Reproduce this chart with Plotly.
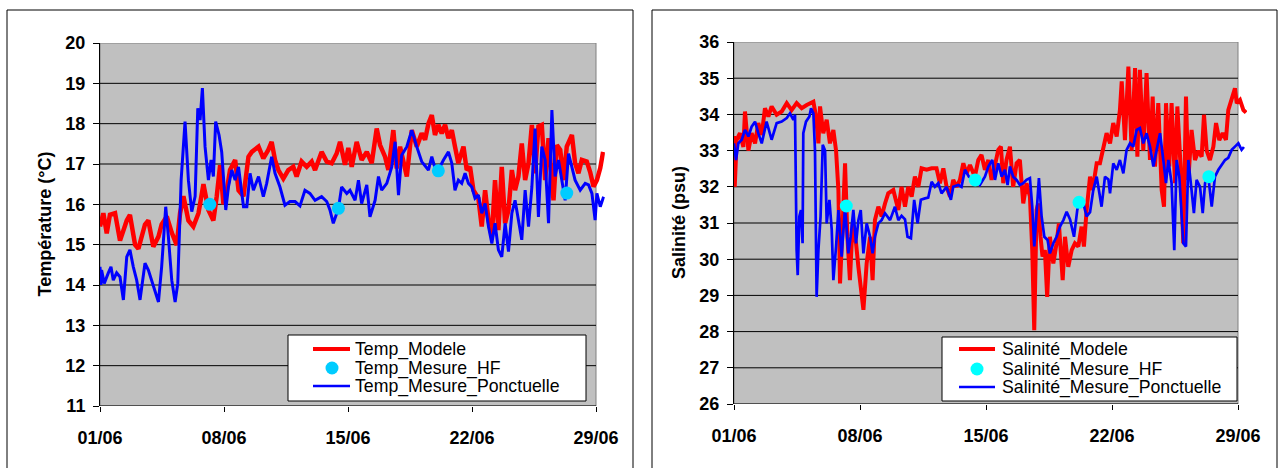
import plotly.graph_objects as go

# ---------------- data (days elapsed since 01/06, 00:00) ----------------
DATE_TICKS = [0, 7, 14, 21, 28]
DATE_LABELS = ["01/06", "08/06", "15/06", "22/06", "29/06"]

TEMP_MODEL_DAY = [0.00, 0.19, 0.38, 0.56, 0.85, 1.13, 1.51, 1.69, 1.98, 2.17, 2.54, 2.73, 3.01, 3.30, 3.48, 3.77,
                  4.05, 4.33, 4.52, 4.71, 4.99, 5.27, 5.56, 5.84, 6.12, 6.40, 6.59, 6.78, 6.97, 7.16, 7.34, 7.63,
                  7.82, 8.10, 8.38, 8.57, 8.95, 9.22, 9.50, 9.69, 9.88, 10.07, 10.35, 10.63, 10.91, 11.10, 11.38,
                  11.67, 11.95, 12.14, 12.51, 12.80, 13.08, 13.36, 13.55, 13.83, 14.02, 14.21, 14.49, 14.77, 15.06,
                  15.34, 15.62, 15.81, 16.09, 16.28, 16.56, 16.75, 16.94, 17.13, 17.32, 17.60, 17.88, 18.16, 18.35,
                  18.54, 18.73, 18.91, 19.10, 19.29, 19.48, 19.67, 19.86, 20.04, 20.23, 20.52, 20.70, 20.89, 21.08,
                  21.36, 21.55, 21.74, 21.93, 22.12, 22.30, 22.49, 22.68, 22.87, 23.06, 23.25, 23.43, 23.62, 23.81,
                  24.00, 24.19, 24.38, 24.56, 24.75, 24.94, 25.13, 25.32, 25.60, 25.79, 25.98, 26.17, 26.35, 26.64,
                  26.82, 27.01, 27.20, 27.48, 27.67, 27.86, 28.05, 28.24, 28.40]
TEMP_MODEL = [15.45, 15.78, 15.28, 15.74, 15.78, 15.10, 15.60, 15.74, 15.00, 14.90, 15.50, 15.60, 14.95, 15.20, 15.50,
              15.70, 15.30, 14.99, 15.78, 16.20, 15.60, 15.45, 15.78, 16.50, 15.86, 15.60, 16.20, 16.97, 16.00, 16.35,
              16.85, 17.10, 16.35, 16.20, 17.18, 17.30, 17.43, 17.14, 17.35, 17.55, 17.10, 16.85, 16.64, 16.85, 16.93,
              16.69, 17.06, 16.93, 17.06, 16.85, 17.30, 17.06, 17.02, 17.26, 17.55, 16.98, 17.40, 16.93, 17.55, 17.10,
              17.30, 17.02, 17.88, 17.47, 17.18, 16.85, 17.84, 16.89, 17.43, 17.10, 16.69, 17.84, 17.43, 17.76, 17.60,
              18.00, 18.21, 17.72, 17.97, 17.76, 17.97, 17.64, 17.84, 17.43, 17.02, 17.43, 16.85, 16.93, 16.35, 16.15,
              15.45, 16.35, 15.61, 15.20, 16.60, 15.36, 16.93, 15.53, 15.86, 16.85, 16.35, 16.69, 17.51, 16.60, 17.02,
              17.97, 16.77, 17.93, 17.97, 16.60, 17.64, 16.10, 17.47, 17.35, 16.60, 17.43, 17.72, 17.02, 16.77, 17.10,
              17.06, 16.80, 16.44, 16.60, 16.90, 17.30]

TEMP_PONCT_DAY = [0.00, 0.05, 0.09, 0.24, 0.47, 0.62, 0.75, 0.94, 1.13, 1.32, 1.51, 1.69, 1.88, 2.07, 2.26, 2.54,
                  2.73, 3.01, 3.30, 3.48, 3.71, 3.86, 4.05, 4.24, 4.39, 4.58, 4.80, 4.99, 5.18, 5.37, 5.52, 5.65,
                  5.78, 5.93, 6.12, 6.27, 6.40, 6.53, 6.72, 6.87, 7.10, 7.25, 7.44, 7.63, 7.82, 8.10, 8.29, 8.47,
                  8.66, 8.95, 9.22, 9.41, 9.69, 9.88, 10.16, 10.44, 10.72, 11.01, 11.29, 11.57, 11.85, 12.14, 12.51,
                  12.80, 12.98, 13.17, 13.46, 13.64, 13.93, 14.11, 14.40, 14.59, 14.77, 15.06, 15.24, 15.53, 15.72,
                  15.90, 16.19, 16.47, 16.66, 16.85, 17.03, 17.32, 17.60, 17.88, 18.16, 18.54, 18.73, 18.91, 19.10,
                  19.39, 19.67, 19.86, 20.04, 20.23, 20.42, 20.61, 20.80, 20.99, 21.17, 21.36, 21.55, 21.74, 21.93,
                  22.12, 22.30, 22.49, 22.68, 22.87, 23.06, 23.25, 23.43, 23.62, 23.81, 24.00, 24.19, 24.38, 24.56,
                  24.75, 24.94, 25.13, 25.32, 25.51, 25.69, 25.88, 26.07, 26.26, 26.45, 26.64, 26.82, 27.11, 27.39,
                  27.58, 27.77, 27.95, 28.05, 28.24, 28.43]
TEMP_PONCT = [14.45, 14.00, 14.37, 14.04, 14.30, 14.45, 14.12, 14.30, 14.20, 13.63, 14.70, 14.87, 14.45, 14.12, 13.63,
              14.54, 14.37, 13.96, 13.58, 14.45, 15.94, 15.20, 14.12, 13.58, 14.04, 16.60, 18.05, 16.60, 15.82, 16.20,
              18.38, 18.09, 18.88, 17.43, 16.60, 17.10, 16.69, 18.05, 17.72, 17.30, 15.86, 16.43, 16.85, 16.60, 16.93,
              15.94, 15.94, 16.77, 16.35, 16.69, 16.19, 16.52, 17.18, 16.77, 16.43, 15.98, 16.07, 16.07, 15.96, 16.35,
              16.27, 16.10, 16.19, 16.07, 15.86, 15.53, 15.90, 16.43, 16.27, 16.35, 16.10, 16.60, 16.02, 16.48, 15.69,
              16.10, 16.69, 16.35, 16.52, 16.93, 17.55, 16.23, 17.22, 17.43, 17.84, 17.43, 17.06, 16.85, 17.18, 16.90,
              16.85, 17.10, 17.30, 17.02, 16.35, 16.60, 16.52, 16.77, 16.52, 16.43, 16.15, 16.23, 15.78, 16.02, 15.45,
              15.03, 15.53, 14.87, 14.70, 15.53, 14.83, 15.78, 16.10, 15.61, 15.12, 16.35, 15.45, 16.43, 17.88, 15.69,
              17.43, 17.10, 15.53, 18.34, 16.69, 17.10, 16.60, 16.10, 17.26, 16.93, 16.60, 16.35, 16.52, 16.48, 16.27,
              15.61, 16.27, 15.94, 16.19]

TEMP_HF_DAY = [6.20, 13.46, 19.10, 26.35]
TEMP_HF = [16.00, 15.90, 16.83, 16.28]

SAL_MODEL_DAY = [0.00, 0.04, 0.15, 0.33, 0.52, 0.61, 0.80, 0.98, 1.17, 1.35, 1.54, 1.72, 1.91, 2.09, 2.37, 2.65,
                 2.93, 3.20, 3.48, 3.76, 4.04, 4.41, 4.56, 4.69, 4.78, 4.96, 5.15, 5.33, 5.52, 5.67, 5.80, 5.89,
                 6.04, 6.17, 6.30, 6.44, 6.59, 6.78, 6.91, 7.09, 7.19, 7.37, 7.56, 7.70, 7.83, 8.02, 8.20, 8.39,
                 8.57, 8.85, 9.13, 9.31, 9.50, 9.68, 9.87, 10.05, 10.24, 10.42, 10.70, 10.98, 11.25, 11.44, 11.63,
                 11.81, 12.00, 12.18, 12.37, 12.55, 12.74, 12.92, 13.11, 13.38, 13.57, 13.75, 13.94, 14.13, 14.31,
                 14.50, 14.68, 14.83, 14.96, 15.14, 15.33, 15.51, 15.70, 15.88, 16.07, 16.25, 16.44, 16.57, 16.68,
                 16.81, 16.90, 17.03, 17.14, 17.27, 17.40, 17.55, 17.74, 17.92, 18.05, 18.26, 18.39, 18.57, 18.76,
                 18.94, 19.13, 19.31, 19.44, 19.59, 19.78, 19.92, 20.15, 20.33, 20.52, 20.70, 20.89, 21.07, 21.26,
                 21.44, 21.54, 21.72, 21.91, 22.09, 22.28, 22.41, 22.55, 22.74, 22.92, 23.11, 23.26, 23.39, 23.57,
                 23.76, 23.89, 24.00, 24.18, 24.31, 24.50, 24.63, 24.81, 24.96, 25.11, 25.24, 25.42, 25.61, 25.80,
                 25.98, 26.11, 26.26, 26.44, 26.63, 26.78, 26.96, 27.15, 27.33, 27.46, 27.65, 27.83, 27.93, 28.11,
                 28.30, 28.45]
SAL_MODEL = [33.40, 32.00, 33.30, 33.48, 33.10, 34.08, 33.00, 33.48, 33.20, 33.76, 33.43, 34.17, 33.94, 34.22, 33.99,
             34.08, 34.31, 34.12, 34.31, 34.17, 34.26, 34.35, 33.94, 33.20, 34.22, 33.48, 33.85, 33.20, 33.57, 33.00,
             31.91, 29.33, 30.99, 32.65, 30.62, 29.42, 30.99, 30.44, 29.79, 29.15, 28.60, 29.88, 30.62, 29.42, 31.08,
             31.45, 31.18, 31.54, 31.82, 31.91, 31.36, 32.00, 31.45, 32.00, 31.73, 32.28, 32.00, 32.51, 32.47, 32.51,
             32.51, 32.10, 32.51, 32.00, 31.73, 32.19, 32.00, 32.19, 32.65, 32.37, 32.60, 32.28, 32.74, 32.88, 32.47,
             32.74, 32.19, 32.60, 33.02, 33.11, 32.10, 32.74, 33.11, 32.00, 32.65, 32.74, 31.54, 32.10, 31.73, 30.25,
             28.04, 31.36, 31.54, 30.62, 30.07, 30.25, 28.96, 30.62, 29.88, 30.44, 30.99, 29.42, 30.62, 29.79, 30.25,
             30.44, 30.35, 30.90, 30.35, 31.36, 32.28, 31.91, 32.65, 32.65, 33.11, 33.48, 33.20, 33.76, 33.39, 34.12,
             34.91, 33.29, 35.32, 33.00, 35.28, 32.83, 35.23, 33.00, 35.14, 32.74, 34.49, 32.56, 34.31, 31.91, 31.45,
             34.31, 32.56, 34.31, 32.10, 34.22, 32.56, 30.44, 34.49, 32.19, 33.57, 32.74, 33.00, 32.83, 33.99, 33.00,
             32.74, 33.11, 33.76, 33.29, 33.48, 33.30, 34.12, 34.40, 34.72, 34.31, 34.40, 34.12, 34.05]

SAL_PONCT_DAY = [0.00, 0.11, 0.24, 0.43, 0.61, 0.80, 0.98, 1.17, 1.35, 1.54, 1.81, 2.09, 2.37, 2.65, 2.93, 3.11,
                 3.30, 3.39, 3.48, 3.54, 3.63, 3.72, 3.81, 3.85, 4.00, 4.19, 4.28, 4.41, 4.50, 4.59, 4.69, 4.81,
                 4.93, 5.06, 5.15, 5.30, 5.43, 5.52, 5.67, 5.80, 5.98, 6.17, 6.35, 6.48, 6.63, 6.78, 6.91, 7.04,
                 7.19, 7.37, 7.56, 7.70, 7.83, 8.02, 8.20, 8.39, 8.67, 8.94, 9.13, 9.31, 9.50, 9.64, 9.83, 10.01,
                 10.20, 10.38, 10.61, 10.79, 10.98, 11.16, 11.35, 11.53, 11.81, 12.05, 12.18, 12.46, 12.64, 12.83,
                 13.05, 13.42, 13.66, 13.94, 14.13, 14.35, 14.50, 14.68, 14.87, 15.05, 15.20, 15.33, 15.51, 15.70,
                 15.88, 16.07, 16.25, 16.44, 16.57, 16.68, 16.81, 16.94, 17.09, 17.24, 17.42, 17.55, 17.74, 17.92,
                 18.11, 18.30, 18.48, 18.67, 18.89, 19.07, 19.18, 19.41, 19.59, 19.78, 19.96, 20.15, 20.30, 20.42,
                 20.61, 20.80, 20.89, 21.07, 21.26, 21.44, 21.63, 21.81, 22.00, 22.18, 22.37, 22.55, 22.74, 22.92,
                 23.11, 23.30, 23.48, 23.67, 23.85, 24.00, 24.13, 24.31, 24.46, 24.59, 24.74, 24.87, 24.96, 25.11,
                 25.24, 25.42, 25.55, 25.70, 25.89, 26.04, 26.17, 26.35, 26.54, 26.72, 26.91, 27.09, 27.28, 27.46,
                 27.65, 27.83, 28.02, 28.20, 28.33]
SAL_PONCT = [33.20, 32.74, 33.20, 33.30, 33.57, 33.39, 33.66, 33.80, 33.48, 33.20, 33.80, 33.30, 33.76, 33.80, 33.90,
             34.03, 33.85, 33.99, 30.25, 29.56, 31.18, 31.36, 30.44, 33.48, 33.80, 33.94, 34.17, 34.03, 33.00, 28.96,
             30.25, 31.18, 33.16, 33.00, 30.99, 31.64, 30.81, 29.42, 30.35, 31.36, 30.07, 31.45, 30.16, 30.62, 31.36,
             30.44, 31.08, 31.36, 30.16, 30.99, 30.62, 30.16, 30.62, 30.99, 31.08, 31.27, 31.08, 31.45, 31.08, 31.20,
             31.10, 30.62, 30.58, 31.64, 30.99, 31.64, 31.68, 31.70, 32.14, 32.00, 32.10, 31.82, 32.00, 31.64, 32.00,
             32.05, 32.00, 32.47, 32.28, 32.19, 32.05, 32.28, 32.56, 32.74, 32.19, 32.65, 32.28, 32.47, 32.05, 32.56,
             32.28, 32.19, 32.05, 32.10, 32.19, 32.24, 31.45, 30.35, 31.27, 32.24, 31.18, 30.62, 30.53, 30.16, 30.44,
             30.62, 30.90, 31.08, 31.31, 31.10, 30.62, 31.36, 31.57, 31.54, 31.18, 31.30, 31.91, 32.28, 31.82, 31.45,
             32.28, 32.20, 31.82, 32.65, 32.47, 32.74, 32.37, 33.02, 33.20, 33.11, 33.57, 33.62, 33.20, 33.48, 33.11,
             32.56, 33.02, 33.48, 32.74, 32.10, 32.74, 32.10, 30.25, 32.74, 32.28, 31.18, 30.44, 30.35, 32.74, 31.91,
             31.27, 32.19, 32.00, 31.27, 32.10, 32.28, 31.45, 32.28, 32.47, 32.60, 32.74, 32.80, 33.02, 33.11, 33.20,
             33.02, 33.10]

SAL_HF_DAY = [6.24, 13.40, 19.17, 26.38]
SAL_HF = [31.47, 32.19, 31.57, 32.28]

# ---------------- styling ----------------
W, H = 1280, 468
FONT = "Liberation Sans"
RED, BLUE = "#FF0000", "#0000FF"
PLOT_BG = "#C0C0C0"


def fx(p):
    return p / W


def fy(p):
    return 1 - p / H


PANELS = [
    dict(xa="x", ya="y", x_px=(100, 596), y_px=(43, 406), yr=(11, 20),
         title="Température (°C)", title_x=44, frame=(7, 633), hf_color="#00CCFF",
         widths=(4.5, 3.0),
         names=["Temp_Modele", "Temp_Mesure_HF", "Temp_Mesure_Ponctuelle"],
         model=(TEMP_MODEL_DAY, TEMP_MODEL), ponct=(TEMP_PONCT_DAY, TEMP_PONCT), hf=(TEMP_HF_DAY, TEMP_HF),
         legend=dict(box=(288, 586, 335, 401), sym=(313, 350), dot_x=332, text_x=353, rows=(349, 368, 386))),
    dict(xa="x2", ya="y2", x_px=(734, 1238), y_px=(42, 404), yr=(26, 36),
         title="Salinité (psu)", title_x=679, frame=(652, 1277), hf_color="#00FFFF",
         widths=(4.0, 2.7),
         names=["Salinité_Modele", "Salinité_Mesure_HF", "Salinité_Mesure_Ponctuelle"],
         model=(SAL_MODEL_DAY, SAL_MODEL), ponct=(SAL_PONCT_DAY, SAL_PONCT), hf=(SAL_HF_DAY, SAL_HF),
         legend=dict(box=(942, 1237, 337, 401), sym=(959, 995), dot_x=977, text_x=1000, rows=(349, 369, 387))),
]

X_END = 28.5  # lines run a little past the last date tick

fig = go.Figure()
shapes, annotations = [], []

for i, p in enumerate(PANELS):
    xa, ya = p["xa"], p["ya"]
    y0, y1 = p["yr"]
    w_model, w_ponct = p["widths"]

    fig.add_trace(go.Scatter(x=p["model"][0], y=p["model"][1], mode="lines", name=p["names"][0],
                             line=dict(color=RED, width=w_model), xaxis=xa, yaxis=ya, showlegend=False))
    fig.add_trace(go.Scatter(x=p["ponct"][0], y=p["ponct"][1], mode="lines", name=p["names"][2],
                             line=dict(color=BLUE, width=w_ponct), xaxis=xa, yaxis=ya, showlegend=False))
    fig.add_trace(go.Scatter(x=p["hf"][0], y=p["hf"][1], mode="markers", name=p["names"][1],
                             marker=dict(color=p["hf_color"], size=13, line=dict(width=0)),
                             xaxis=xa, yaxis=ya, showlegend=False))

    xl, xr = p["x_px"]
    px_per_day = (xr - xl) / DATE_TICKS[-1]
    suffix = "" if i == 0 else "2"
    fig.layout["xaxis" + suffix] = dict(
        domain=[fx(xl), fx(xl + px_per_day * X_END)], range=[0, X_END], anchor=ya, automargin=False,
        tickmode="array", tickvals=DATE_TICKS, ticktext=DATE_LABELS,
        ticks="outside", ticklen=5, tickwidth=1, tickcolor="black",
        showgrid=False, zeroline=False, showline=False, ticklabelstandoff=10,
        tickfont=dict(family=FONT, size=18, color="black", weight="bold"),
    )
    fig.layout["yaxis" + suffix] = dict(
        domain=[fy(p["y_px"][1]), fy(p["y_px"][0])], range=[y0, y1], anchor=xa, automargin=False,
        dtick=1, tick0=y0, ticks="outside", ticklen=6, tickwidth=1, tickcolor="black",
        showgrid=False, zeroline=False, showline=True, linecolor="black", linewidth=1,
        ticklabelstandoff=4,
        tickfont=dict(family=FONT, size=18, color="black", weight="bold"),
    )

    # plot area (grey fill with grey border), horizontal gridlines and the date axis line
    shapes.append(dict(type="rect", xref=xa, yref=ya, x0=0, x1=DATE_TICKS[-1], y0=y0, y1=y1,
                       fillcolor=PLOT_BG, line=dict(color="#808080", width=1), layer="below"))
    for v in range(y0 + 1, y1):
        shapes.append(dict(type="line", xref=xa, yref=ya, x0=0, x1=DATE_TICKS[-1], y0=v, y1=v,
                           line=dict(color="black", width=1), layer="below"))
    shapes.append(dict(type="line", xref=xa, yref=ya, x0=0, x1=DATE_TICKS[-1], y0=y0, y1=y0,
                       line=dict(color="black", width=1), layer="above"))

    # chart frame
    fl, fr = p["frame"]
    shapes.append(dict(type="rect", xref="paper", yref="paper", x0=fx(fl), x1=fx(fr), y0=-0.1, y1=fy(10),
                       line=dict(color="black", width=1), fillcolor="rgba(0,0,0,0)", layer="below"))

    # axis title
    annotations.append(dict(text=p["title"], x=fx(p["title_x"]), y=fy((p["y_px"][0] + p["y_px"][1]) / 2),
                            xref="paper", yref="paper", textangle=-90, showarrow=False,
                            xanchor="center", yanchor="middle",
                            font=dict(family=FONT, size=18, color="black", weight="bold")))

    # legend box
    lg = p["legend"]
    bx0, bx1, by0, by1 = lg["box"]
    shapes.append(dict(type="rect", xref="paper", yref="paper", x0=fx(bx0), x1=fx(bx1), y0=fy(by1), y1=fy(by0),
                       fillcolor="white", line=dict(color="black", width=1), layer="above"))
    s0, s1 = lg["sym"]
    r0, r1, r2 = lg["rows"]
    shapes.append(dict(type="line", xref="paper", yref="paper", x0=fx(s0), x1=fx(s1), y0=fy(r0), y1=fy(r0),
                       line=dict(color=RED, width=4), layer="above"))
    shapes.append(dict(type="circle", xref="paper", yref="paper",
                       x0=fx(lg["dot_x"] - 6.5), x1=fx(lg["dot_x"] + 6.5), y0=fy(r1 + 6.5), y1=fy(r1 - 6.5),
                       fillcolor=p["hf_color"], line=dict(width=0), layer="above"))
    shapes.append(dict(type="line", xref="paper", yref="paper", x0=fx(s0), x1=fx(s1), y0=fy(r2), y1=fy(r2),
                       line=dict(color=BLUE, width=2.5), layer="above"))
    for name, row in zip(p["names"], lg["rows"]):
        annotations.append(dict(text=name, x=fx(lg["text_x"]), y=fy(row), xref="paper", yref="paper",
                                showarrow=False, xanchor="left", yanchor="middle",
                                font=dict(family=FONT, size=17.7, color="black")))

fig.update_layout(
    width=W, height=H, margin=dict(l=0, r=0, t=0, b=0, autoexpand=False),
    paper_bgcolor="white", plot_bgcolor="white",
    shapes=shapes, annotations=annotations, showlegend=False,
)

fig.write_html("out.html")
